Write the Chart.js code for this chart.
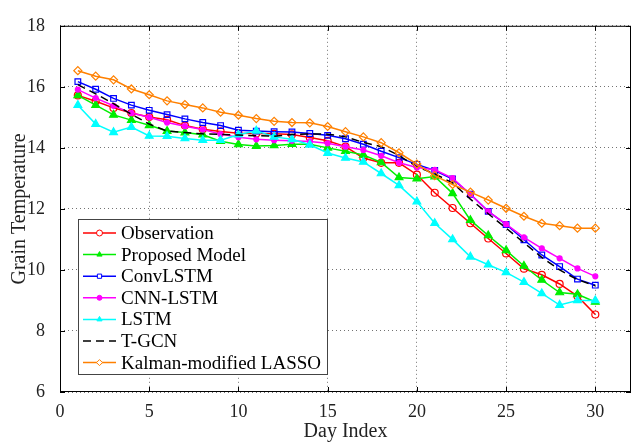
<!DOCTYPE html>
<html>
<head>
<meta charset="utf-8">
<script src="https://cdn.jsdelivr.net/npm/chart.js@4.4.0/dist/chart.umd.min.js"></script>
<style>
  html, body { margin: 0; padding: 0; background: #fff; }
  #wrap { width: 637px; height: 447px; }
</style>
</head>
<body>
<div id="wrap"><canvas id="tempChart" width="637" height="447"></canvas></div>
<script>
// Day index along x
const days = [1,2,3,4,5,6,7,8,9,10,11,12,13,14,15,16,17,18,19,20,21,22,23,24,25,26,27,28,29,30];

// Series values
const observation = [15.72,15.53,15.31,15.14,15.01,14.92,14.73,14.61,14.54,14.48,14.47,14.46,14.44,14.34,14.23,14.04,13.67,13.51,13.51,13.12,12.53,12.03,11.53,11.03,10.54,10.04,9.84,9.54,9.14,8.54];
const proposedModel = [15.72,15.40,15.08,14.91,14.74,14.55,14.50,14.43,14.22,14.11,14.06,14.08,14.12,14.12,14.00,13.89,13.77,13.52,13.03,12.99,13.06,12.51,11.63,11.13,10.64,10.13,9.67,9.26,9.20,8.95];
const convLSTM = [16.17,15.92,15.62,15.40,15.23,15.09,14.95,14.83,14.73,14.58,14.55,14.53,14.52,14.47,14.41,14.30,14.12,13.89,13.68,13.46,13.26,12.98,12.48,11.92,11.49,10.99,10.49,10.11,9.70,9.50];
const cnnLSTM = [15.91,15.63,15.38,15.14,15.00,14.83,14.71,14.60,14.45,14.35,14.28,14.25,14.23,14.21,14.15,14.04,13.93,13.74,13.51,13.36,13.28,13.01,12.48,11.92,11.50,11.07,10.71,10.38,10.05,9.79];
const lstm = [15.40,14.78,14.51,14.68,14.39,14.38,14.31,14.25,14.25,14.43,14.56,14.36,14.28,14.10,13.83,13.67,13.54,13.16,12.77,12.24,11.53,11.00,10.43,10.17,9.92,9.60,9.23,8.85,9.00,9.00];
const tgcn = [16.07,15.77,15.45,15.10,14.78,14.55,14.50,14.46,14.44,14.42,14.40,14.38,14.44,14.46,14.45,14.36,14.18,14.04,13.75,13.38,13.15,12.85,12.32,11.84,11.37,10.89,10.41,10.00,9.68,9.48];
const kalmanLasso = [16.53,16.35,16.23,15.93,15.74,15.54,15.42,15.31,15.17,15.07,14.96,14.87,14.83,14.82,14.70,14.53,14.36,14.17,13.84,13.47,13.09,12.80,12.55,12.29,12.02,11.76,11.53,11.45,11.37,11.37];

// Axis ticks
const xTicks = [0, 5, 10, 15, 20, 25, 30];
const yTicks = [6, 8, 10, 12, 14, 16, 18];

const serif = "'Liberation Serif', 'Times New Roman', serif";

const series = [
  { label: "Observation", data: observation, color: "#ff0000", style: "circle", radius: 3.5, fill: false },
  { label: "Proposed Model", data: proposedModel, color: "#00ee00", style: "triangle", radius: 4.5, fill: true },
  { label: "ConvLSTM", data: convLSTM, color: "#0000ff", style: "rect", radius: 4, fill: false },
  { label: "CNN-LSTM", data: cnnLSTM, color: "#ff00ff", style: "circle", radius: 2.5, fill: true },
  { label: "LSTM", data: lstm, color: "#00ffff", style: "triangle", radius: 4.5, fill: true },
  { label: "T-GCN", data: tgcn, color: "#000000", style: false, radius: 0, fill: false, dash: [8, 5] },
  { label: "Kalman-modified LASSO", data: kalmanLasso, color: "#ff8000", style: "rectRot", radius: 4, fill: false },
];

const datasets = series.map((s, i) => ({
  label: s.label,
  data: days.map((d, j) => ({ x: d, y: s.data[j] })),
  borderColor: s.color,
  backgroundColor: s.color,
  borderWidth: 1.5,
  borderDash: s.dash || [],
  pointStyle: s.style,
  pointRadius: s.radius,
  pointBorderColor: s.color,
  pointBackgroundColor: s.fill ? s.color : "rgba(0,0,0,0)",
  pointBorderWidth: 1.2,
  tension: 0,
  order: series.length - i,
}));

// frame, inward tick marks and the legend box
const framePlugin = {
  id: "frame",
  afterDraw(chart) {
    const { ctx, chartArea: a, scales } = chart;
    ctx.save();
    ctx.strokeStyle = "#000";
    ctx.lineWidth = 1;
    ctx.setLineDash([]);
    ctx.strokeRect(a.left + 0.5, a.top + 0.5, a.right - a.left - 1, a.bottom - a.top - 1);
    ctx.beginPath();
    xTicks.forEach(v => {
      const px = Math.round(scales.x.getPixelForValue(v)) + 0.5;
      ctx.moveTo(px, a.bottom); ctx.lineTo(px, a.bottom - 5);
      ctx.moveTo(px, a.top); ctx.lineTo(px, a.top + 5);
    });
    yTicks.forEach(v => {
      const py = Math.round(scales.y.getPixelForValue(v)) + 0.5;
      ctx.moveTo(a.left, py); ctx.lineTo(a.left + 5, py);
      ctx.moveTo(a.right, py); ctx.lineTo(a.right - 5, py);
    });
    ctx.stroke();

    // legend
    const bx = 78, by = 219, bw = 249, bh = 155;
    ctx.fillStyle = "#fff";
    ctx.fillRect(bx, by, bw, bh);
    ctx.strokeStyle = "#444";
    ctx.strokeRect(bx + 0.5, by + 0.5, bw, bh);
    ctx.font = "19px " + serif;
    ctx.textBaseline = "middle";
    series.forEach((s, i) => {
      const y = 233 + i * 21.6;
      ctx.strokeStyle = s.color;
      ctx.lineWidth = 1.5;
      ctx.setLineDash(s.dash || []);
      ctx.beginPath();
      ctx.moveTo(83, y); ctx.lineTo(116, y);
      ctx.stroke();
      ctx.setLineDash([]);
      if (s.style) {
        ctx.fillStyle = s.fill ? s.color : "#fff";
        ctx.lineWidth = 1;
        Chart.helpers.drawPoint(ctx, { pointStyle: s.style, radius: Math.min(s.radius, 3), rotation: 0, borderWidth: 1 }, 99.5, y);
      }
      ctx.fillStyle = "#000";
      ctx.fillText(s.label, 121, y + 1);
    });
    ctx.restore();
  }
};

const chart = new Chart(document.getElementById("tempChart").getContext("2d"), {
  type: "line",
  data: { datasets },
  options: {
    responsive: false,
    animation: false,
    layout: { padding: { top: 15, right: 6, left: 0, bottom: 0 } },
    plugins: {
      legend: { display: false },
      tooltip: { enabled: false },
    },
    scales: {
      x: {
        type: "linear",
        min: 0,
        max: 32,
        afterFit: s => { s.height = 55; },
        afterBuildTicks: s => { s.ticks = xTicks.map(v => ({ value: v })); },
        ticks: { font: { family: serif, size: 18 }, color: "#222", padding: 9, maxRotation: 0 },
        grid: { drawTicks: false, color: "rgba(0,0,0,0.55)", lineWidth: 1, borderDash: [1, 3] },
        border: { display: false, dash: [1, 3] },
        title: { display: true, text: "Day Index", font: { family: serif, size: 20 }, color: "#222", padding: { top: 0, bottom: 3 } },
      },
      y: {
        min: 6,
        max: 18,
        afterFit: s => { s.width = 60; },
        afterBuildTicks: s => { s.ticks = yTicks.map(v => ({ value: v })); },
        ticks: { font: { family: serif, size: 18 }, color: "#222", padding: 15 },
        grid: { drawTicks: false, color: "rgba(0,0,0,0.55)", lineWidth: 1, borderDash: [1, 3] },
        border: { display: false, dash: [1, 3] },
        title: { display: true, text: "Grain Temperature", font: { family: serif, size: 20 }, color: "#222", padding: { top: 8, bottom: 0 } },
      },
    },
  },
  plugins: [framePlugin],
});
</script>
</body>
</html>
